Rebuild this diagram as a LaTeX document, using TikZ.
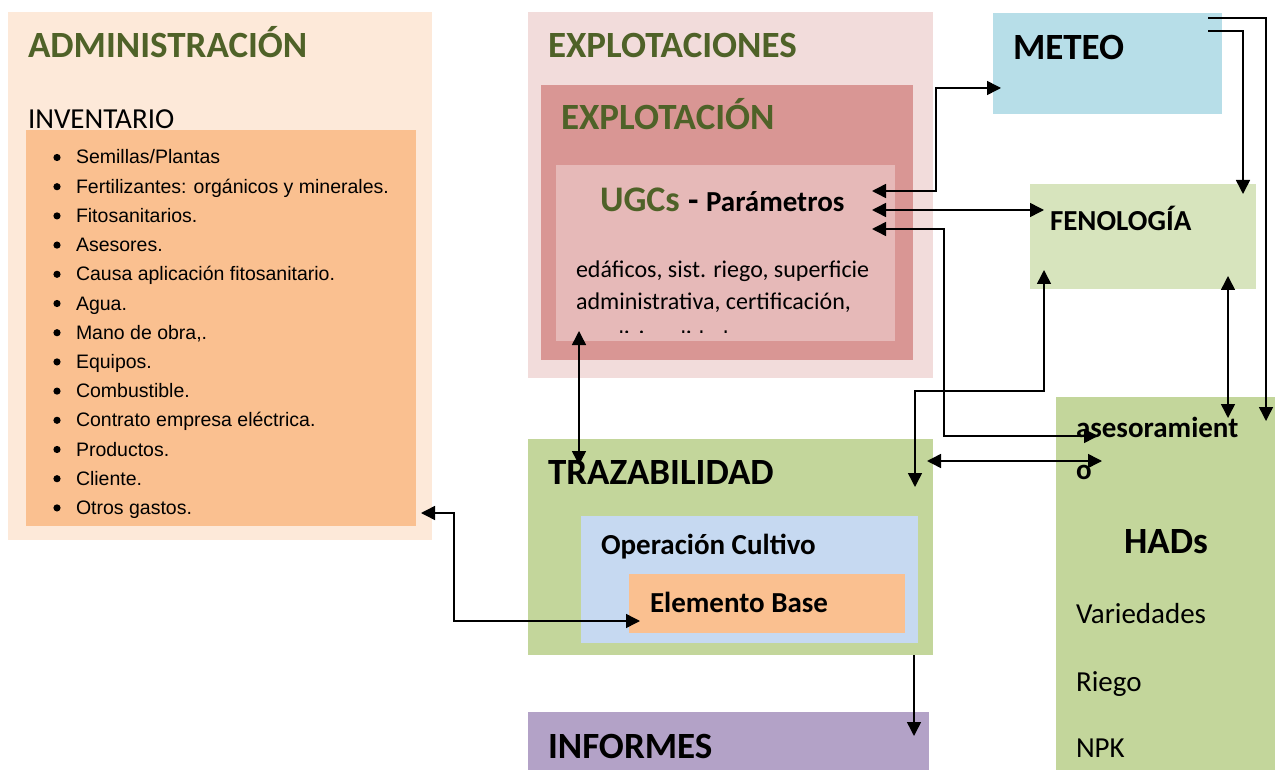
\documentclass[tikz,border=0pt]{standalone}
\usepackage{fontspec}
\setmainfont{Carlito}
\newfontfamily\arialf{Liberation Sans}
\usetikzlibrary{arrows.meta}
\definecolor{adminout}{HTML}{FDE9D9}
\definecolor{peach}{HTML}{FAC090}
\definecolor{tgreen}{HTML}{4F6228}
\definecolor{explout}{HTML}{F2DCDB}
\definecolor{explmid}{HTML}{D99694}
\definecolor{ugcfill}{HTML}{E6B9B8}
\definecolor{meteofill}{HTML}{B7DEE8}
\definecolor{fenofill}{HTML}{D7E4BD}
\definecolor{gfill}{HTML}{C3D69B}
\definecolor{opfill}{HTML}{C6D9F1}
\definecolor{infofill}{HTML}{B3A2C7}
\newcommand{\fsz}[1]{\fontsize{#1}{#1}\selectfont}
\tikzset{
  box/.style={anchor=north west, inner sep=0pt, outer sep=0pt, draw=none},
  lbl/.style={anchor=base west, inner sep=0pt, outer sep=0pt},
  big/.style={lbl, font=\fsz{37}\bfseries},
  mid/.style={lbl, font=\fsz{29}\bfseries},
  plain/.style={lbl, font=\fsz{29}},
  item/.style={lbl, font=\arialf\fsz{19.5}},
  conn/.style={line width=1.5pt, -{Triangle[length=14pt,width=14pt]}},
  dconn/.style={line width=1.5pt, {Triangle[length=14pt,width=14pt]}-{Triangle[length=14pt,width=14pt]}}
}
\begin{document}
\begin{tikzpicture}[x=1pt,y=-1pt]
\useasboundingbox (0,0) rectangle (1275,770);
% ADMINISTRACION
\node[box, fill=adminout, minimum width=424pt, minimum height=528pt] (admin) at (8,12) {};
\node[big, text=tgreen] (admint) at (28,58) {ADMINISTRACIÓN};
\node[plain] (inv) at (28,129) {INVENTARIO};
\node[box, fill=peach, minimum width=390pt, minimum height=396pt] (invbox) at (26,130) {};
\foreach \t [count=\i] in {Semillas/Plantas,Fertilizantes: orgánicos y minerales.,Fitosanitarios.,Asesores.,Causa aplicación fitosanitario.,Agua.,{Mano de obra,.},Equipos.,Combustible.,Contrato empresa eléctrica.,Productos.,Cliente.,Otros gastos.}{
  \node[item] (it\i) at (76,{164+(\i-1)*29.2}) {\t};
  \fill (57,{157.5+(\i-1)*29.2}) circle (3.6pt);
}
% EXPLOTACIONES
\node[box, fill=explout, minimum width=405pt, minimum height=366pt] (explos) at (528,12) {};
\node[big, text=tgreen] (explost) at (548,58) {EXPLOTACIONES};
\node[box, fill=explmid, minimum width=372pt, minimum height=275pt] (explo) at (541,85) {};
\node[big, text=tgreen] (explot) at (561,130) {EXPLOTACIÓN};
\node[box, fill=ugcfill, minimum width=339pt, minimum height=176pt] (ugc) at (556,165) {};
\node[lbl, font=\fsz{36}\bfseries, text=tgreen] (ugct) at (600,212) {UGCs {\color{black}\fsz{34}- \fsz{29}Parámetros}};
\begin{scope}
\clip (556,165) rectangle (895,332);
\node[lbl, font=\fsz{24}] (ugc1) at (576,277) {edáficos, sist. riego, superficie};
\node[lbl, font=\fsz{24}] (ugc2) at (576,309) {administrativa, certificación,};
\node[lbl, font=\fsz{24}] (ugc3) at (583,347) {analisis calidad};
\end{scope}
% METEO
\node[box, fill=meteofill, minimum width=229pt, minimum height=101pt] (meteo) at (993,13) {};
\node[big] (meteot) at (1013,60) {METEO};
% FENOLOGIA
\node[box, fill=fenofill, minimum width=226pt, minimum height=105pt] (feno) at (1030,184) {};
\node[mid] (fenot) at (1050,231) {FENOLOGÍA};
% HADs
\node[box, fill=gfill, minimum width=219pt, minimum height=373pt] (hads) at (1056,397) {};
\node[mid] (ases1) at (1076,437) {asesoramient};
\node[mid] (ases2) at (1076,479) {o};
\node[big] (hadst) at (1124,553) {HADs};
\node[plain] (var) at (1076,623) {Variedades};
\node[plain] (rie) at (1076,691) {Riego};
\node[plain] (npk) at (1076,757) {NPK};
% TRAZABILIDAD
\node[box, fill=gfill, minimum width=405pt, minimum height=216pt] (traz) at (528,439) {};
\node[big] (trazt) at (548,484) {TRAZABILIDAD};
\node[box, fill=opfill, minimum width=337pt, minimum height=127pt] (oper) at (581,516) {};
\node[mid] (opert) at (601,554) {Operación Cultivo};
\node[box, fill=peach, minimum width=276pt, minimum height=59pt] (elem) at (629,574) {};
\node[mid] (elemt) at (650,612) {Elemento Base};
% INFORMES
\node[box, fill=infofill, minimum width=401pt, minimum height=58pt] (info) at (528,712) {};
\node[big] (infot) at (548,758) {INFORMES};
% connector end points
\coordinate (uA) at (872,191);
\coordinate (uB) at (872,210);
\coordinate (uC) at (872,229);
\coordinate (mIn) at (1001,88);
\coordinate (fIn) at (1044,210);
\coordinate (hA) at (1098,436);
\coordinate (mO1) at (1208,18);
\coordinate (mO2) at (1208,31);
\coordinate (hB) at (1266,421);
\coordinate (fB) at (1243,194);
\coordinate (fC) at (1228,276);
\coordinate (hC) at (1228,418);
\coordinate (fD) at (1044,270);
\coordinate (tA) at (915,487);
\coordinate (tB) at (927,461);
\coordinate (hD) at (1102,461);
\coordinate (uD) at (579,331);
\coordinate (tC) at (579,465);
\coordinate (aA) at (421,513);
\coordinate (eA) at (640,621);
\coordinate (tD) at (914,655);
\coordinate (iA) at (914,736);
% connectors
\draw[dconn] (uA) -- (936,191) |- (mIn);
\draw[dconn] (uB) -- (fIn);
\draw[dconn] (uC) -- (944,229) |- (hA);
\draw[conn] (mO1) -| (hB);
\draw[conn] (mO2) -| (fB);
\draw[dconn] (fC) -- (hC);
\draw[dconn] (fD) |- (915,391) -- (tA);
\draw[dconn] (tB) -- (hD);
\draw[dconn] (uD) -- (tC);
\draw[dconn] (aA) -- (454,513) |- (eA);
\draw[conn] (tD) -- (iA);
\end{tikzpicture}
\end{document}
